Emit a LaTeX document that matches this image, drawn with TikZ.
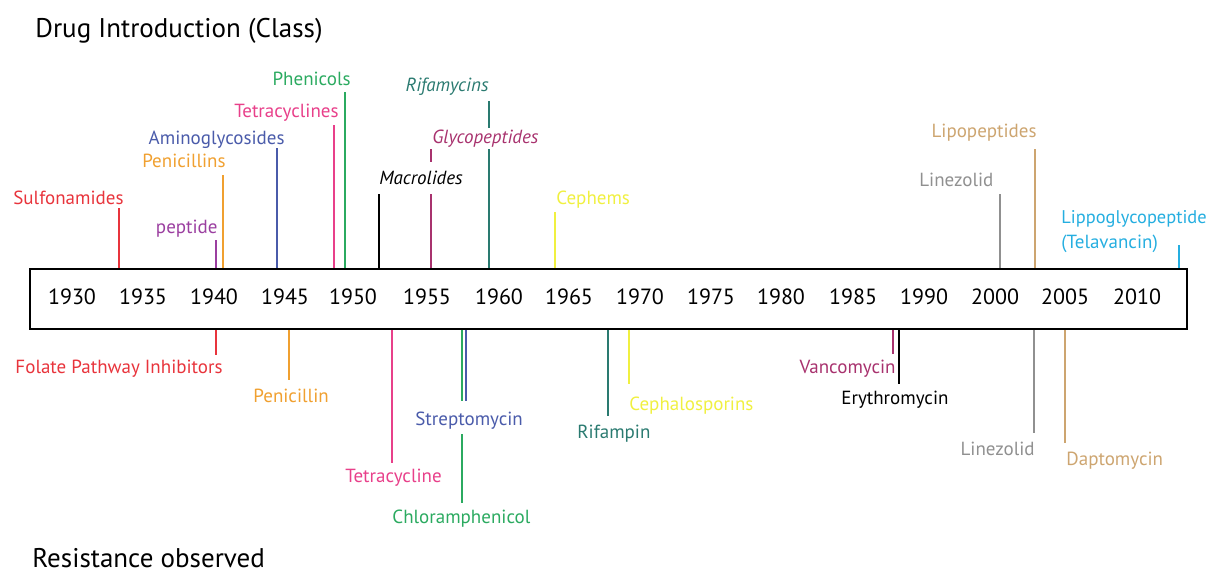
\documentclass[tikz,border=0pt]{standalone}
\usepackage{fontspec}
\setmainfont{PT Sans}
\definecolor{cRed}{HTML}{E8343C}
\definecolor{cPurple}{HTML}{9B3FA0}
\definecolor{cOrange}{HTML}{F0A030}
\definecolor{cBlue}{HTML}{4A5BAA}
\definecolor{cPink}{HTML}{E8408A}
\definecolor{cGreen}{HTML}{2BAA60}
\definecolor{cMagenta}{HTML}{A8326E}
\definecolor{cTeal}{HTML}{2A7A70}
\definecolor{cYellow}{HTML}{F0F040}
\definecolor{cGray}{HTML}{909090}
\definecolor{cTan}{HTML}{CDA570}
\definecolor{cCyan}{HTML}{25AEE0}
\begin{document}
\begin{tikzpicture}[x=0.5pt,y=-0.5pt,
  lab/.style={inner sep=0pt,font=\fontsize{9.5}{11}\selectfont},
  ilab/.style={lab,font=\fontsize{9.5}{11}\selectfont\itshape},
  yr/.style={inner sep=0pt,font=\fontsize{11}{13}\selectfont},
  head/.style={inner sep=0pt,anchor=base west,font=\fontsize{13.5}{15}\selectfont},
  tick/.style={line width=1pt}]
\useasboundingbox (0,0) rectangle (1210,573);
\node[draw,line width=1.2pt,minimum width=578.5pt,minimum height=30pt,inner sep=0pt,anchor=north west] (box) at (29,268) {};
% headings
\node[head] (hIntro) at (35,38) {Drug Introduction (Class)};
\node[head] (hRes) at (32,567) {Resistance observed};
% years
\foreach \yy/\xx [count=\i] in {1930/72,1935/143,1940/214,1945/285,1950/353,1955/427,1960/499,1965/569,1970/640,1975/711,1980/781,1985/853,1990/924,2000/995,2005/1065,2010/1137}
  \node[yr] (y\i) at (\xx,297) {\yy};
% ---------- top labels ----------
\node[lab,text=cRed,anchor=base west] (lSulf) at (13,204) {Sulfonamides};
\node[lab,text=cPurple,anchor=base east] (lPept) at (218,233) {peptide};
\node[lab,text=cOrange,anchor=base east] (lPen) at (226,167) {Penicillins};
\node[lab,text=cBlue,anchor=base east] (lAmino) at (285,144) {Aminoglycosides};
\node[lab,text=cPink,anchor=base east] (lTetra) at (339,117) {Tetracyclines};
\node[lab,text=cGreen,anchor=base east] (lPhen) at (351,85) {Phenicols};
\node[ilab,text=black,anchor=base west] (lMacro) at (379,184) {Macrolides};
\node[ilab,text=cMagenta,anchor=base west] (lGlyco) at (432,143) {Glycopeptides};
\node[ilab,text=cTeal,anchor=base east] (lRifa) at (489,91) {Rifamycins};
\node[lab,text=cYellow,anchor=base west] (lCeph) at (556,204) {Cephems};
\node[lab,text=cGray,anchor=base west] (lLineT) at (919,186) {Linezolid};
\node[lab,text=cTan,anchor=base east] (lLipo) at (1037,137) {Lipopeptides};
\node[lab,text=cCyan,anchor=base west,font=\fontsize{9.2}{11}\selectfont] (lLippo) at (1061,223) {Lippoglycopeptide};
\node[lab,text=cCyan,anchor=base west] (lTela) at (1061,248) {(Telavancin)};
% top tick tops
\coordinate (tSulf) at (119,208);
\coordinate (tPept) at (216,240);
\coordinate (tPen) at (223,175);
\coordinate (tAmino) at (277,148);
\coordinate (tTetra) at (334,125);
\coordinate (tPhen) at (345,92);
\coordinate (tMacro) at (379,194);
\coordinate (tGlyA) at (431,149);
\coordinate (tGlyB) at (431,162);
\coordinate (tGlyC) at (431,194);
\coordinate (tRifA) at (489,101);
\coordinate (tRifB) at (489,128);
\coordinate (tRifC) at (489,149);
\coordinate (tCeph) at (555,212);
\coordinate (tLine) at (1000,194);
\coordinate (tLipo) at (1035,149);
\coordinate (tTela) at (1179,245);
\draw[tick,cRed] (tSulf) -- (tSulf |- box.north);
\draw[tick,cPurple] (tPept) -- (tPept |- box.north);
\draw[tick,cOrange] (tPen) -- (tPen |- box.north);
\draw[tick,cBlue] (tAmino) -- (tAmino |- box.north);
\draw[tick,cPink] (tTetra) -- (tTetra |- box.north);
\draw[tick,cGreen] (tPhen) -- (tPhen |- box.north);
\draw[tick,black] (tMacro) -- (tMacro |- box.north);
\draw[tick,cMagenta] (tGlyA) -- (tGlyB) (tGlyC) -- (tGlyC |- box.north);
\draw[tick,cTeal] (tRifA) -- (tRifB) (tRifC) -- (tRifC |- box.north);
\draw[tick,cYellow] (tCeph) -- (tCeph |- box.north);
\draw[tick,cGray] (tLine) -- (tLine |- box.north);
\draw[tick,cTan] (tLipo) -- (tLipo |- box.north);
\draw[tick,cCyan] (tTela) -- (tTela |- box.north);
% ---------- bottom labels ----------
\node[lab,text=cRed,anchor=base east] (rFol) at (223,373) {Folate Pathway Inhibitors};
\node[lab,text=cOrange,anchor=base west] (rPen) at (253,402) {Penicillin};
\node[lab,text=cPink,anchor=base west] (rTetra) at (345,482) {Tetracycline};
\node[lab,text=cBlue,anchor=base west] (rStrep) at (415,425) {Streptomycin};
\node[lab,text=cGreen,anchor=base west] (rChlor) at (392,523) {Chloramphenicol};
\node[lab,text=cTeal,anchor=base west] (rRif) at (577,438) {Rifampin};
\node[lab,text=cYellow,anchor=base west] (rCeph) at (629,410) {Cephalosporins};
\node[lab,text=cMagenta,anchor=base east] (rVanc) at (896,373) {Vancomycin};
\node[lab,text=black,anchor=base west] (rEry) at (841,404) {Erythromycin};
\node[lab,text=cGray,anchor=base east] (rLine) at (1035,455) {Linezolid};
\node[lab,text=cTan,anchor=base west] (rDapt) at (1066,465) {Daptomycin};
% bottom tick ends
\coordinate (bFol) at (216,355);
\coordinate (bPen) at (289,380);
\coordinate (bTetra) at (392,463);
\coordinate (bStrepG) at (462,401);
\coordinate (bStrepB) at (466,401);
\coordinate (bChlA) at (462,434);
\coordinate (bChlB) at (462,503);
\coordinate (bRif) at (608,416);
\coordinate (bCeph) at (629,384);
\coordinate (bVanc) at (893,354);
\coordinate (bEry) at (899,384);
\coordinate (bLine) at (1034,433);
\coordinate (bDapt) at (1065,443);
\draw[tick,cRed] (bFol |- box.south) -- (bFol);
\draw[tick,cOrange] (bPen |- box.south) -- (bPen);
\draw[tick,cPink] (bTetra |- box.south) -- (bTetra);
\draw[tick,cGreen] (bStrepG |- box.south) -- (bStrepG);
\draw[tick,cBlue] (bStrepB |- box.south) -- (bStrepB);
\draw[tick,cGreen] (bChlA) -- (bChlB);
\draw[tick,cTeal] (bRif |- box.south) -- (bRif);
\draw[tick,cYellow] (bCeph |- box.south) -- (bCeph);
\draw[tick,cMagenta] (bVanc |- box.south) -- (bVanc);
\draw[tick,black] (bEry |- box.south) -- (bEry);
\draw[tick,cGray] (bLine |- box.south) -- (bLine);
\draw[tick,cTan] (bDapt |- box.south) -- (bDapt);
\end{tikzpicture}
\end{document}
